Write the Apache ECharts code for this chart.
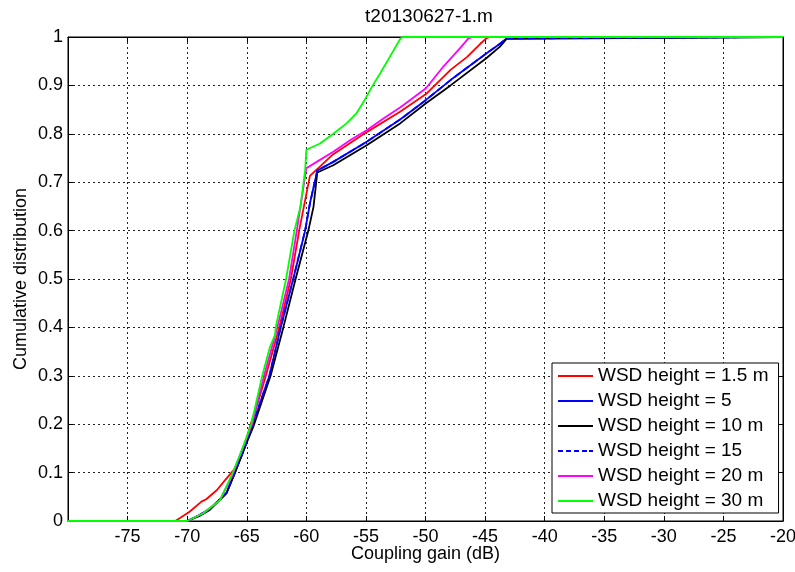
<!DOCTYPE html>
<html>
<head>
<meta charset="utf-8">
<script src="https://cdn.jsdelivr.net/npm/echarts@6/dist/echarts.min.js"></script>
<style>html,body{margin:0;padding:0;background:#fff}#c{width:795px;height:572px}</style>
</head>
<body>
<div id="c"></div>
<script>
const titleText = 't20130627-1.m';
const xName = 'Coupling gain (dB)';
const yName = 'Cumulative distribution';
const seriesNames = ['WSD height = 1.5 m','WSD height = 5','WSD height = 10 m','WSD height = 15','WSD height = 20 m','WSD height = 30 m'];

const red15 = [[-80,0],[-71.0,0],[-70.6,0.006],[-69.8,0.019],[-68.8,0.04],[-68.4,0.045],[-67.5,0.064],[-66.8,0.085],[-66.1,0.105],[-65.4,0.136],[-64.7,0.198],[-64.0,0.25],[-63.4,0.3],[-62.27,0.4],[-61.3,0.5],[-60.6,0.6],[-59.7,0.713],[-59.0,0.729],[-57.74,0.758],[-54.9,0.804],[-52.1,0.846],[-49.96,0.882],[-47.9,0.932],[-46.5,0.959],[-45.4,0.986],[-44.9,0.997],[-44.6,1],[-20,1]];
const blue5 = [[-80,0],[-70.0,0],[-69.0,0.012],[-68.1,0.025],[-66.7,0.058],[-66.0,0.1],[-65.15,0.153],[-64.5,0.2],[-63.1,0.3],[-62.15,0.4],[-61.1,0.5],[-60.1,0.6],[-59.7,0.656],[-59.08,0.724],[-57.74,0.742],[-54.9,0.784],[-52.1,0.83],[-49.96,0.87],[-47.9,0.911],[-44.9,0.966],[-43.75,0.986],[-43.2,0.997],[-43.1,1],[-20,1]];
const black10 = [[-80,0],[-70.0,0],[-69.0,0.01],[-68.1,0.023],[-66.7,0.057],[-66.0,0.099],[-65.15,0.153],[-64.45,0.195],[-63.0,0.3],[-61.93,0.4],[-60.9,0.5],[-59.83,0.6],[-59.4,0.649],[-59.08,0.72],[-57.74,0.735],[-54.9,0.777],[-52.1,0.822],[-49.96,0.863],[-47.9,0.9],[-44.9,0.956],[-43.75,0.98],[-43.2,0.996],[-43.05,1],[-20,1]];
const blue15 = [[-80,0],[-70.0,0],[-69.0,0.012],[-68.1,0.025],[-66.7,0.058],[-66.0,0.1],[-65.15,0.153],[-64.5,0.2],[-63.1,0.3],[-62.15,0.4],[-61.1,0.5],[-60.1,0.6],[-59.7,0.656],[-59.08,0.724],[-57.74,0.742],[-54.9,0.784],[-52.1,0.83],[-49.96,0.87],[-47.9,0.911],[-44.9,0.966],[-43.75,0.986],[-43.2,0.997],[-43.1,1],[-20,1]];
const magenta20 = [[-80,0],[-70.0,0],[-68.65,0.016],[-67.25,0.043],[-66.2,0.095],[-65.4,0.147],[-64.55,0.2],[-63.55,0.3],[-62.43,0.4],[-61.45,0.5],[-60.8,0.6],[-60.0,0.729],[-59.13,0.742],[-57.74,0.763],[-56.3,0.787],[-54.9,0.808],[-53.5,0.832],[-52.1,0.855],[-49.96,0.894],[-48.5,0.939],[-47.1,0.977],[-46.4,0.997],[-46.0,1],[-20,1]];
const green30 = [[-80,0],[-70.0,0],[-68.65,0.016],[-67.25,0.043],[-66.26,0.095],[-65.4,0.147],[-64.6,0.202],[-63.7,0.3],[-63.05,0.36],[-62.63,0.384],[-62.57,0.4],[-61.7,0.5],[-61.0,0.6],[-60.5,0.649],[-60.1,0.725],[-60.0,0.767],[-58.85,0.78],[-57.74,0.8],[-56.6,0.822],[-55.8,0.842],[-55.1,0.87],[-54.5,0.897],[-53.8,0.925],[-53.0,0.959],[-52.1,0.997],[-51.9,1],[-20,1]];

const seriesData = [red15, blue5, black10, blue15, magenta20, green30];
const colors = ['#ff0000','#0000ff','#000000','#0000ff','#ff00ff','#00ff00'];
const dashes = ['solid','solid','solid','dashed','solid','solid'];

const FONT = 'Liberation Sans, Arial, sans-serif';
const chart = echarts.init(document.getElementById('c'), null, {renderer:'canvas'});

const SOLID_ICON = 'rect';
const DASH_ICON = 'path://M0,0h5v2h-5z M8,0h5v2h-5z M16,0h5v2h-5z M24,0h5v2h-5z M31,0h4v2h-4z';

const gridLine = {show:true, lineStyle:{color:'#222', type:[2,3], width:1}};
const option = {
  animation:false,
  backgroundColor:'#fff',
  textStyle:{fontFamily:FONT},
  title:{text:titleText, left:424, top:2, textAlign:'center',
    textStyle:{fontFamily:FONT, fontSize:19, fontWeight:'normal', color:'#000'}},
  legend:{
    left:552, top:363, orient:'vertical',
    backgroundColor:'#fff', borderColor:'#000', borderWidth:1,
    padding:[3,10,2,6], itemGap:5, itemWidth:35, itemHeight:2,
    symbolKeepAspect:false,
    textStyle:{fontFamily:FONT, fontSize:19, color:'#000', lineHeight:20},
    data: seriesNames.map((n,i)=>({name:n, icon: dashes[i]==='dashed' ? DASH_ICON : SOLID_ICON,
      itemStyle:{color:colors[i]}}))
  },
  grid:{left:68, right:12, top:37, bottom:51, show:true, borderColor:'#000', borderWidth:1,
    backgroundColor:'transparent', containLabel:false, outerBoundsMode:'none'},
  xAxis:[{
    type:'value', min:-80, max:-20, interval:5,
    name:xName, nameLocation:'middle', nameGap:24, nameMoveOverlap:false,
    nameTextStyle:{fontFamily:FONT, fontSize:18, color:'#000'},
    axisLine:{show:true, onZero:false, lineStyle:{color:'#000'}},
    axisTick:{show:true, inside:true, length:5, lineStyle:{color:'#000'}},
    axisLabel:{fontFamily:FONT, fontSize:18, color:'#000', margin:7,
      formatter:v=> v===-80 ? '' : String(v)},
    splitLine:gridLine
  },{
    type:'value', min:-80, max:-20, interval:5, position:'top',
    axisLine:{show:true, onZero:false, lineStyle:{color:'#000'}},
    axisTick:{show:true, inside:true, length:5, lineStyle:{color:'#000'}},
    axisLabel:{show:false}, splitLine:{show:false}
  }],
  yAxis:[{
    type:'value', min:0, max:1, interval:0.1,
    name:yName, nameLocation:'middle', nameGap:38, nameRotate:90, nameMoveOverlap:false,
    nameTextStyle:{fontFamily:FONT, fontSize:18, color:'#000'},
    axisLine:{show:true, onZero:false, lineStyle:{color:'#000'}},
    axisTick:{show:true, inside:true, length:5, lineStyle:{color:'#000'}},
    axisLabel:{fontFamily:FONT, fontSize:18, color:'#000', margin:5,
      formatter:v=> String(Math.round(v*10)/10)},
    splitLine:gridLine
  },{
    type:'value', min:0, max:1, interval:0.1, position:'right',
    axisLine:{show:true, onZero:false, lineStyle:{color:'#000'}},
    axisTick:{show:true, inside:true, length:5, lineStyle:{color:'#000'}},
    axisLabel:{show:false}, splitLine:{show:false}
  }],
  series: seriesNames.map((n,i)=>({
    name:n, type:'line', data:seriesData[i], symbol:'none', showSymbol:false,
    xAxisIndex:0, yAxisIndex:0, clip:false,
    lineStyle:{color:colors[i], width:1.8, type:dashes[i]},
    itemStyle:{color:colors[i]},
    z: 3 + i
  }))
};
chart.setOption(option);
</script>
</body>
</html>
